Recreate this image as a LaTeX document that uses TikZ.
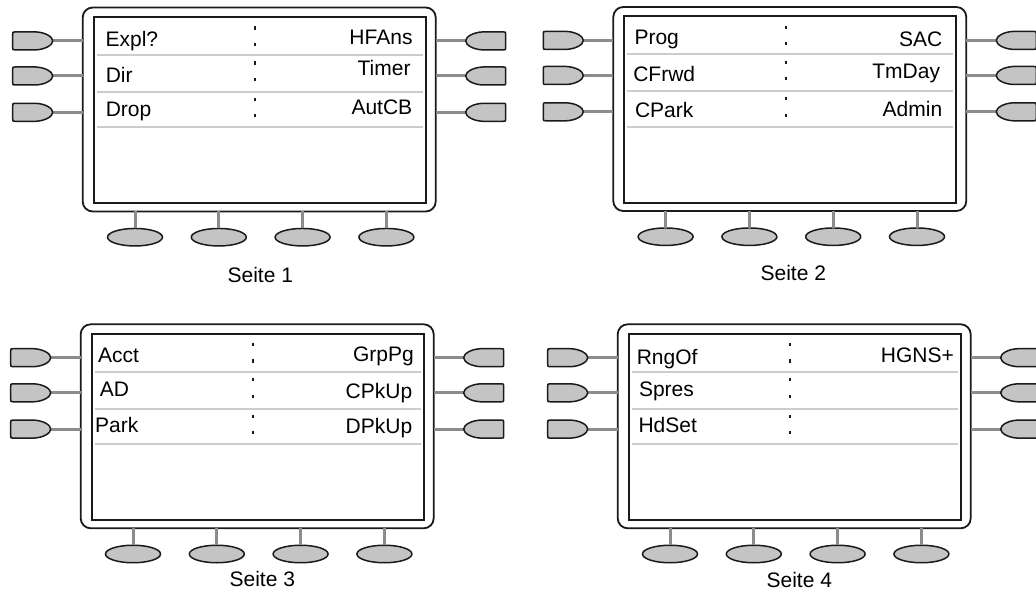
\documentclass[tikz,border=0pt]{standalone}
\usepackage{fontspec}
\setmainfont{Liberation Sans}
\usetikzlibrary{shapes.geometric}
\definecolor{keyfill}{HTML}{C4C4C4}
\definecolor{ink}{HTML}{1A1A1A}
\definecolor{stemgray}{HTML}{8C8C8C}
\definecolor{sepgray}{HTML}{CCCCCC}
\tikzset{
  outerframe/.style={draw=ink, line width=1.8pt, rounded corners=10pt, minimum width=353pt, minimum height=204pt, inner sep=0pt, outer sep=0pt},
  innerframe/.style={draw=ink, line width=2pt, minimum width=332pt, minimum height=186.5pt, inner sep=0pt, outer sep=0pt},
  keyshape/.style={draw=ink, fill=keyfill, line width=1.5pt, line join=round},
  softkey/.style={ellipse, draw=ink, fill=keyfill, line width=1.5pt, minimum width=55pt, minimum height=17.5pt, inner sep=0pt, outer sep=0pt},
  stemline/.style={draw=stemgray, line width=3pt},
  sepline/.style={draw=sepgray, line width=2pt},
  lbl/.style={font=\fontsize{21}{25}\selectfont, inner sep=0pt, outer sep=0pt, text=black},
}
\newcommand\leftsoftkey{%
  \path[keyshape] (-17,-9) -- (-37.5,-9) .. controls (-40,-9) .. (-40,-6.5) -- (-40,6.5) .. controls (-40,9) .. (-37.5,9) -- (-17,9) .. controls (-7,8.5) and (0,4) .. (0,0) .. controls (0,-4) and (-7,-8.5) .. (-17,-9) -- cycle;}
\newcommand\rightsoftkey{%
  \path[keyshape] (17,-9) -- (37.5,-9) .. controls (40,-9) .. (40,-6.5) -- (40,6.5) .. controls (40,9) .. (37.5,9) -- (17,9) .. controls (7,8.5) and (0,4) .. (0,0) .. controls (0,-4) and (7,-8.5) .. (17,-9) -- cycle;}
\newcommand\phonepanel[3]{%
  \begin{scope}[shift={(#2,#3)}]
    \node[outerframe, anchor=north west] (#1) at (0,0) {};
    \node[innerframe, anchor=north west] (#1s) at (11,9.5) {};
    \foreach \r/\yy in {1/33.4,2/68.5,3/104.8}{
      \coordinate (#1L\r) at (-30,\yy);
      \coordinate (#1R\r) at (383,\yy);
      \draw[stemline] (#1L\r) -- (#1L\r -| #1.west);
      \draw[stemline] (#1R\r) -- (#1R\r -| #1.east);
      \begin{scope}[shift={(-30,\yy)}]\leftsoftkey\end{scope}
      \begin{scope}[shift={(383,\yy)}]\rightsoftkey\end{scope}
      \fill[ink] (171.5,\yy-14.5) rectangle (173.5,\yy-11.3);
      \fill[ink] (171.5,\yy+1.8) rectangle (173.5,\yy+5);
    }
    \foreach \yy in {47.5,84.2,119.9}{
      \draw[sepline] (14,\yy) -- (340,\yy);
    }
    \foreach \k in {0,1,2,3}{
      \node[softkey] (#1B\k) at (52.3+83.8*\k,229.7) {};
      \draw[stemline] (#1B\k.north) -- (#1B\k.north |- #1.south);
    }
  \end{scope}}
\begin{document}
\begin{tikzpicture}[x=1pt,y=-1pt]
  \useasboundingbox (0,0) rectangle (1036,593);
  \clip (0,0) rectangle (1036,593);
  \fill[white] (0,0) rectangle (1036,593);
  \phonepanel{pa}{82.7}{7.5}
  \phonepanel{pb}{613.3}{7}
  \phonepanel{pc}{80.7}{324.3}
  \phonepanel{pd}{617.7}{324.3}
  % Seite 1
  \node[lbl, anchor=base west] (pat1) at (105.6,46.2) {Expl?};
  \node[lbl, anchor=base west] (pat2) at (105.8,82.3) {Dir};
  \node[lbl, anchor=base west] (pat3) at (105.8,116.2) {Drop};
  \node[lbl, anchor=base east] (pat4) at (412.5,44.3) {HFAns};
  \node[lbl, anchor=base east] (pat5) at (410.5,75.5) {Timer};
  \node[lbl, anchor=base east] (pat6) at (412.2,114.5) {AutCB};
  \node[lbl, anchor=base] (pal) at (260.3,282.5) {Seite 1};
  % Seite 2
  \node[lbl, anchor=base west] (pbt1) at (634.5,44.7) {Prog};
  \node[lbl, anchor=base west] (pbt2) at (633.3,81.2) {CFrwd};
  \node[lbl, anchor=base west] (pbt3) at (635,117.8) {CPark};
  \node[lbl, anchor=base east] (pbt4) at (942.2,46.2) {SAC};
  \node[lbl, anchor=base east] (pbt5) at (940,78.8) {TmDay};
  \node[lbl, anchor=base east] (pbt6) at (942.2,116.2) {Admin};
  \node[lbl, anchor=base] (pbl) at (793.3,281) {Seite 2};
  % Seite 3
  \node[lbl, anchor=base west] (pct1) at (98,362.8) {Acct};
  \node[lbl, anchor=base west] (pct2) at (99.8,396.8) {AD};
  \node[lbl, anchor=base west] (pct3) at (95.2,432.8) {Park};
  \node[lbl, anchor=base east] (pct4) at (413.8,361.2) {GrpPg};
  \node[lbl, anchor=base east] (pct5) at (412.2,398.5) {CPkUp};
  \node[lbl, anchor=base east] (pct6) at (412.2,433.5) {DPkUp};
  \node[lbl, anchor=base] (pcl) at (262.3,586) {Seite 3};
  % Seite 4
  \node[lbl, anchor=base west] (pdt1) at (636.8,364.5) {RngOf};
  \node[lbl, anchor=base west] (pdt2) at (639,396.8) {Spres};
  \node[lbl, anchor=base west] (pdt3) at (638.5,432.8) {HdSet};
  \node[lbl, anchor=base east] (pdt4) at (953.8,362.8) {HGNS+};
  \node[lbl, anchor=base] (pdl) at (799.3,587.5) {Seite 4};
\end{tikzpicture}
\end{document}
